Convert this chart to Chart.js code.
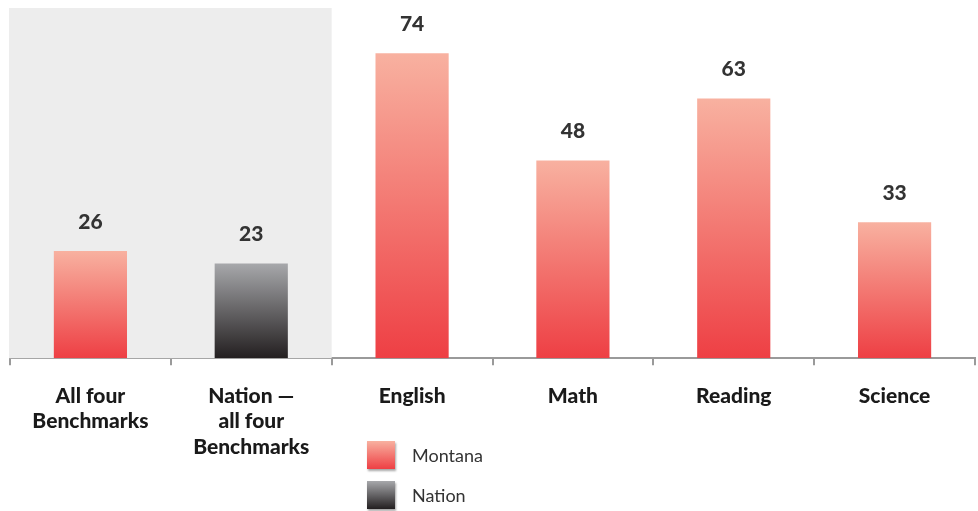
<!DOCTYPE html>
<html>
<head>
<meta charset="utf-8">
<script src="https://cdn.jsdelivr.net/npm/chart.js@4"></script>
<style>
  html, body { margin: 0; padding: 0; background: #fff; }
  #wrap { position: relative; width: 978px; height: 511px; }
  .leg { position: absolute; left: 367px; font: 18px Lato, sans-serif; color: #333; }
  .leg span.sw { position: absolute; left: 0; top: 0; width: 28px; height: 28px; box-shadow: 1px 2px 2px rgba(0,0,0,0.35); }
  .leg span.tx { position: absolute; left: 45px; top: 3px; white-space: nowrap; }
</style>
</head>
<body>
<div id="wrap">
  <canvas id="c" width="978" height="511"></canvas>
  <div class="leg" style="top:441px"><span class="sw" style="background:linear-gradient(#f8b1a0,#ee3f44)"></span><span class="tx">Montana</span></div>
  <div class="leg" style="top:481px"><span class="sw" style="background:linear-gradient(#a7a8ab,#231f20)"></span><span class="tx">Nation</span></div>
</div>
<script>
// 차트 데이터
const categories = [['All four', 'Benchmarks'], ['Nation —', 'all four', 'Benchmarks'], 'English', 'Math', 'Reading', 'Science'];
const values = [26, 23, 74, 48, 63, 33];
const isNation = [false, true, false, false, false, false];

const montanaTop = '#f8b1a0', montanaBottom = '#ee3f44';
const nationTop = '#a7a8ab', nationBottom = '#231f20';

// 막대마다 위에서 아래로 그라데이션
function barGradient(context) {
  const chart = context.chart;
  const area = chart.chartArea;
  if (!area || !chart.scales.y) return null;
  const i = context.dataIndex;
  const top = chart.scales.y.getPixelForValue(values[i]);
  const g = chart.ctx.createLinearGradient(0, top, 0, area.bottom);
  g.addColorStop(0, isNation[i] ? nationTop : montanaTop);
  g.addColorStop(1, isNation[i] ? nationBottom : montanaBottom);
  return g;
}

// 왼쪽 두 칸 회색 배경
const panelPlugin = {
  id: 'panel',
  beforeDatasetsDraw(chart) {
    const { ctx, chartArea, scales } = chart;
    const x = scales.x;
    const right = (x.getPixelForValue(1) + x.getPixelForValue(2)) / 2;
    ctx.save();
    ctx.fillStyle = '#ededed';
    ctx.fillRect(chartArea.left - 1, chartArea.top, right - chartArea.left + 1, chartArea.bottom - chartArea.top);
    ctx.restore();
  }
};

// 막대 위 값 표시
const valuePlugin = {
  id: 'values',
  afterDatasetsDraw(chart) {
    const { ctx } = chart;
    const meta = chart.getDatasetMeta(0);
    ctx.save();
    ctx.font = '900 21px Lato, sans-serif';
    ctx.fillStyle = '#333333';
    ctx.textAlign = 'center';
    ctx.textBaseline = 'middle';
    meta.data.forEach((bar, i) => {
      ctx.fillText(String(values[i]), bar.x, bar.y - 29);
    });
    ctx.restore();
  }
};

const ctx = document.getElementById('c').getContext('2d');
new Chart(ctx, {
  type: 'bar',
  data: {
    labels: categories,
    datasets: [{
      data: values,
      backgroundColor: barGradient,
      barPercentage: 1,
      categoryPercentage: 0.455
    }]
  },
  options: {
    responsive: false,
    animation: false,
    layout: { padding: { left: 10, right: 3, top: 8, bottom: 33 } },
    plugins: { legend: { display: false }, tooltip: { enabled: false } },
    scales: {
      x: {
        grid: { drawOnChartArea: false, color: '#9a9a9a', tickLength: 7, lineWidth: 2 },
        border: { color: '#9a9a9a', width: 2 },
        ticks: {
          color: '#1a1a1a',
          font: { family: 'Lato, sans-serif', size: 21, weight: '900', lineHeight: 1.22 },
          padding: 18,
          maxRotation: 0,
          autoSkip: false
        }
      },
      y: {
        display: false,
        min: 0,
        max: 85
      }
    }
  },
  plugins: [panelPlugin, valuePlugin]
});
</script>
</body>
</html>
